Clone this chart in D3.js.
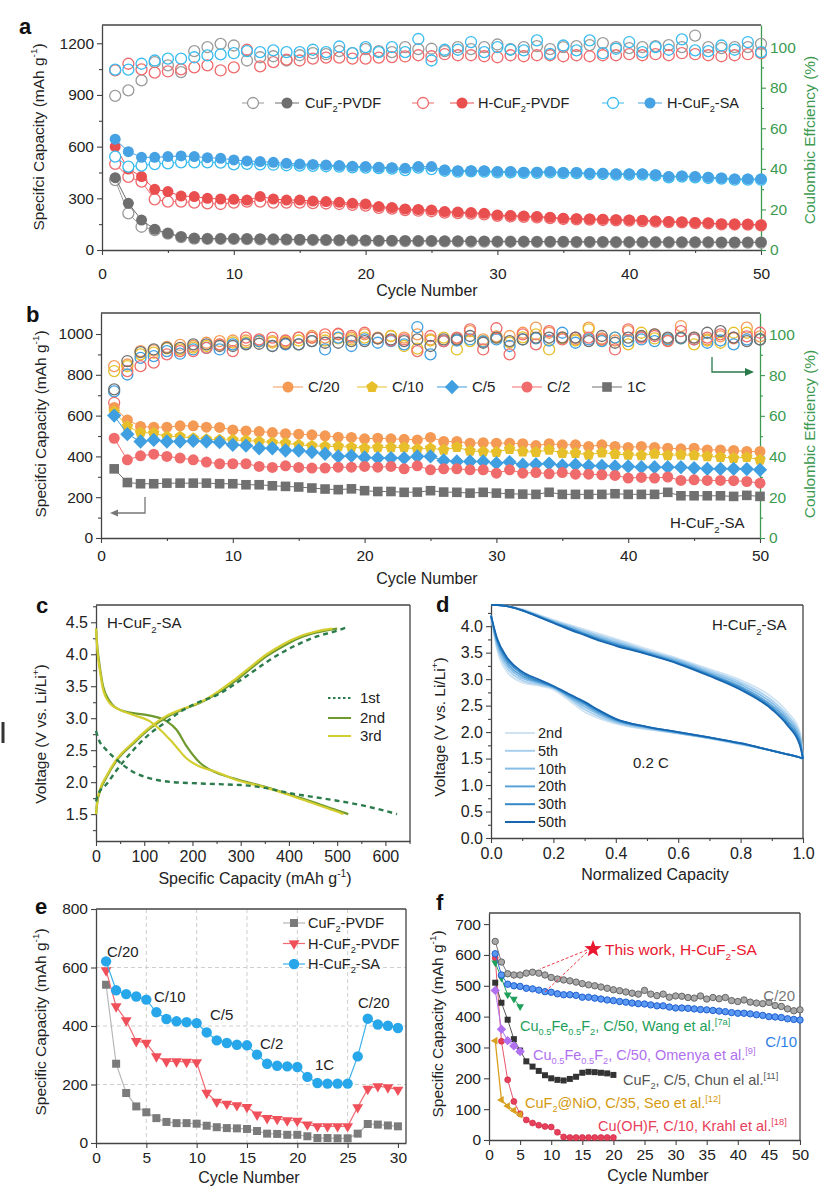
<!DOCTYPE html>
<html><head><meta charset="utf-8">
<script src="https://cdn.jsdelivr.net/npm/d3@7"></script>
<style>body{margin:0;background:#fff}svg{display:block}</style>
</head><body><svg id="c" width="831" height="1199"></svg>
<script>
// ---------------- DATA ----------------
// Panel a (cycles 1..50)
const aGreyDis=[420,271,174,120,97,77,68,66,66,66,65,64,63,62,61,60,59,58,57,56,55,55,54,53,53,52,52,51,51,50,50,50,49,49,49,48,48,48,47,47,47,47,46,46,46,46,45,45,45,45];
const aGreyCh=[406,213,135,115,95,75,66,64,64,64,63,62,61,60,59,58,57,56,55,54,53,53,52,51,51,50,50,49,49,48,48,48,47,47,47,46,46,46,45,45,45,45,44,44,44,44,43,43,43,43];
const aGreyCE=[76,78.7,83.6,92.6,91,87.7,98,100,101.6,100.8,93.4,95,95.5,93.4,96,97,96.5,98,97,99,98,97.5,100,99,99.2,98,100,99,100,101.3,99,100,100.5,99,100,100.5,101,102,100,99.5,100,100.5,101,100,105.7,100,99.5,100,100,101.6];
const aRedDis=[600,470,426,352,339,313,310,300,296,294,290,310,296,290,290,284,281,277,271,267,252,246,238,235,232,223,220,217,213,203,200,197,194,190,184,182,180,178,176,174,172,169,165,163,159,157,151,150,149,145];
const aRedCh=[500,425,397,294,281,281,275,271,267,275,281,281,275,275,275,272,270,267,262,258,245,240,232,228,225,217,214,211,207,198,195,192,189,185,180,178,176,174,172,170,168,165,162,160,156,154,149,148,147,143];
const aRedCE=[88.5,91.8,89,87.4,88,89,90,91,88.5,90,98.7,90.5,92.6,93.8,93.4,94.3,94.8,94.8,94.3,94.3,94.8,95.1,95.4,96,95.5,96.5,96,96,95.5,95,96,95.5,96,96,95.5,96,95.5,96,96,96.5,96,96.5,96,97,96.5,96,95.5,96,96.5,97];
const aBlueDis=[643,571,538,538,542,546,542,536,532,523,517,513,509,503,499,497,493,490,486,484,480,478,474,484,484,464,460,460,460,455,455,452,452,455,450,450,445,445,442,442,442,437,426,430,426,422,418,412,412,412];
const aBlueCh=[542,484,490,499,503,509,509,509,507,497,500,497,495,492,490,488,486,484,480,478,475,472,464,478,470,460,455,456,455,450,451,448,448,450,446,446,441,441,438,438,438,433,422,426,422,418,414,408,408,408];
const aBlueCE=[88.9,88.9,91.8,93.4,94.3,94.3,95,95.9,96.4,97,98,97.5,98.4,97.5,97.5,98.7,97.5,100.3,97,100,97.5,100,97.5,104,93.4,98.7,98.7,102.5,97.5,100,98.7,98.4,103.3,96.7,100.8,98.4,103.3,97,99.2,102.5,97.5,100,98.7,103.8,98.4,98,100.8,98.7,102.5,97.5];
const aLegend=["CuF_{2}-PVDF","H-CuF_{2}-PVDF","H-CuF_{2}-SA"];

// Panel b (cycles 1..50)
const bC20=[640,579,547,543,543,550,550,543,542,530,525,522,517,511,509,506,501,494,493,486,489,486,484,481,493,473,473,465,467,465,465,462,453,462,457,457,449,457,449,444,449,444,440,437,440,432,432,429,424,424];
const bC10=[620,547,517,514,497,497,489,484,481,481,478,473,468,465,457,452,449,449,445,440,444,444,444,436,440,432,445,427,424,421,436,424,421,432,416,416,408,419,411,408,405,413,405,408,405,400,396,392,396,383];
const bC5=[600,509,473,481,473,473,476,473,470,457,453,440,440,429,429,421,413,400,403,395,392,392,392,400,400,380,375,375,375,367,372,359,362,365,356,359,354,354,351,351,347,347,347,347,343,339,339,339,338,334];
const bC2=[489,383,403,411,400,392,383,372,364,364,364,351,346,354,346,343,343,347,347,351,347,351,339,354,334,339,339,334,334,318,334,318,321,315,321,313,313,310,307,294,297,294,299,282,285,282,282,281,277,269];
const b1C=[339,272,266,266,269,269,269,269,266,266,261,261,256,253,250,245,240,237,241,232,228,228,224,225,232,225,224,220,224,220,217,215,214,224,214,214,214,214,217,214,214,214,224,207,207,207,207,204,209,204];
const bC20CE=[84.4,85.2,91.8,92.1,93.8,94.8,94.3,95.9,96.7,97,97,97,96.7,95.9,98.4,99.2,98.4,100,98.4,100,98.4,99.2,98.4,100,97.5,96.7,98,101.6,97.5,99,99.2,100.8,103.3,100.8,98.5,97.5,103.3,98,97,101.6,99,100,98,104.1,98.4,97.5,99,98,103.3,99];
const bC10CE=[82,84.4,90.2,91,93.1,92.6,93.5,94.3,95,96,96,96.5,96,96.5,97,98.4,97,98,97.5,98.4,98,99.2,94.3,93,97,98.4,92.6,96.7,96.7,98.4,96,98.5,100,92.6,98,97,102.5,97,98.4,95.1,100.8,98,97,98,95.1,97,95.9,100.8,100.8,97.5];
const bC5CE=[72,80.3,88.5,89.3,91.8,90.5,92.6,93.4,92.6,95.1,95.4,96.7,94.3,95.1,95.1,96.7,92.6,98.4,94.3,97.5,95.9,96.7,95.1,103.6,90.2,96.7,97,97.5,96.5,97.5,94.3,97.5,98,97,100.8,95.9,97.5,96.7,98.4,96.7,97.5,96.7,97.5,98,97.5,95.9,97,95.1,97.5,97.5];
const bC2CE=[66.4,82,84.4,86.1,90.2,91.8,91.8,93.4,95.1,91.8,98.4,97.5,98.4,97,98.4,98.4,100,100.3,99.2,100.8,98,97,97.5,91.8,99.2,96.7,98.4,102.5,92.6,103,90.2,100,95.1,101.6,97.5,98.4,98.4,97.5,92.6,102.5,98.4,99.2,96.7,101.6,97.5,98.4,100,98.4,99,100.8];
const b1CCE=[73,86.9,91.3,92.6,93.4,93.4,95.1,95.1,94.3,94.3,95.1,95.4,94.3,95.4,95.1,96.7,95.9,95.9,96.7,96.7,98,97.5,96.7,97.5,94.3,97.5,97.5,99.2,95.9,98.4,96.7,97.5,98.4,98.4,98.4,98.4,96.7,99.2,95.9,98.4,99.2,100,98.4,98.4,98.4,100.8,101.6,98.4,96.7,97.5];
const bLegend=["C/20","C/10","C/5","C/2","1C"];

// Panel c: [capacity, voltage]
const c1stDis=[[0,2.8],[5,2.68],[22,2.5],[43,2.35],[77,2.16],[112,2.06],[147,2.01],[216,1.98],[285,1.96],[300,1.955],[350,1.91],[400,1.83],[450,1.77],[500,1.71],[550,1.64],[600,1.55],[624,1.5]];
const c1stCh=[[0,1.7],[5,1.82],[22,1.97],[43,2.19],[77,2.5],[112,2.76],[147,2.95],[181,3.13],[216,3.26],[250,3.36],[285,3.52],[320,3.7],[354,3.88],[389,4.04],[423,4.17],[458,4.28],[492,4.35],[520,4.42]];
const c2ndDis=[[0,4.4],[3,4.1],[8,3.8],[15,3.49],[29,3.26],[50,3.13],[77,3.08],[112,3.04],[147,2.95],[167,2.82],[188,2.56],[216,2.3],[243,2.17],[285,2.06],[354,1.92],[400,1.81],[450,1.69],[492,1.58],[523,1.5]];
const c2ndCh=[[0,1.5],[3,1.7],[8,1.85],[22,2.08],[43,2.34],[77,2.6],[112,2.84],[147,3.02],[181,3.14],[216,3.24],[250,3.38],[285,3.56],[320,3.77],[354,3.97],[389,4.13],[423,4.26],[458,4.34],[500,4.4]];
const c3rdDis=[[0,4.4],[3,4.05],[8,3.75],[15,3.44],[29,3.23],[50,3.13],[77,3.05],[112,2.95],[133,2.82],[160,2.61],[188,2.37],[216,2.24],[250,2.16],[285,2.05],[354,1.91],[400,1.8],[450,1.67],[492,1.56],[513,1.5]];
const c3rdCh=[[0,1.5],[3,1.72],[8,1.88],[22,2.1],[43,2.36],[77,2.62],[112,2.86],[147,3.04],[181,3.15],[216,3.25],[250,3.4],[285,3.59],[320,3.8],[354,4.0],[389,4.16],[423,4.28],[458,4.36],[490,4.4]];
const cLegend=["1st","2nd","3rd"];

// Panel d: normalized capacity grid + voltages
const dX=[0,0.02,0.05,0.1,0.15,0.2,0.25,0.3,0.35,0.4,0.5,0.6,0.7,0.8,0.9,0.95,0.99,1.0];
const d2Dis=[4.2,3.55,3.15,2.94,2.88,2.8,2.6,2.38,2.25,2.16,2.05,1.97,1.88,1.77,1.65,1.58,1.52,1.5];
const d5Dis=[4.2,3.6,3.22,2.98,2.9,2.83,2.64,2.43,2.28,2.18,2.06,1.98,1.88,1.77,1.65,1.58,1.52,1.5];
const d10Dis=[4.2,3.65,3.28,3.02,2.93,2.84,2.66,2.48,2.32,2.2,2.08,1.98,1.89,1.78,1.65,1.58,1.52,1.5];
const d20Dis=[4.2,3.69,3.33,3.06,2.95,2.85,2.68,2.52,2.35,2.22,2.09,1.99,1.89,1.78,1.65,1.58,1.52,1.5];
const d30Dis=[4.2,3.73,3.38,3.1,2.97,2.86,2.7,2.55,2.38,2.24,2.1,2.0,1.9,1.79,1.65,1.58,1.52,1.5];
const d50Dis=[4.2,3.76,3.42,3.14,3.0,2.87,2.72,2.57,2.4,2.25,2.1,2.0,1.9,1.79,1.65,1.58,1.52,1.5];
const d2Ch=[4.4,4.4,4.38,4.32,4.22,4.12,4.03,3.94,3.85,3.76,3.57,3.39,3.19,2.98,2.66,2.38,2.0,1.5];
const d5Ch=[4.4,4.4,4.38,4.31,4.21,4.1,4.01,3.91,3.82,3.73,3.54,3.37,3.16,2.94,2.6,2.32,1.95,1.5];
const d10Ch=[4.4,4.4,4.38,4.31,4.2,4.09,3.99,3.89,3.79,3.7,3.52,3.35,3.13,2.9,2.55,2.27,1.9,1.5];
const d20Ch=[4.4,4.4,4.38,4.3,4.19,4.08,3.97,3.86,3.76,3.67,3.5,3.32,3.1,2.86,2.5,2.22,1.85,1.5];
const d30Ch=[4.4,4.4,4.38,4.3,4.19,4.07,3.96,3.85,3.74,3.65,3.48,3.3,3.08,2.83,2.46,2.17,1.8,1.5];
const d50Ch=[4.4,4.4,4.38,4.3,4.18,4.06,3.94,3.83,3.72,3.63,3.47,3.29,3.06,2.8,2.43,2.13,1.75,1.5];
const dLegend=["2nd","5th","10th","20th","30th","50th"];

// Panel e (cycles 1..30)
const eGrey=[541,271,171,125,105,85,72,68,68,66,59,54,51,50,48,41,32,31,28,28,23,17,17,16,16,32,65,63,60,57];
const eRed=[590,467,419,348,342,296,279,279,277,276,171,141,134,129,123,97,85,82,77,76,63,57,57,57,57,122,185,194,190,182];
const eBlue=[621,522,509,501,490,447,424,416,413,410,378,351,342,336,334,302,271,264,262,260,226,205,203,203,203,296,425,405,401,393];
const eLegend=["CuF_{2}-PVDF","H-CuF_{2}-PVDF","H-CuF_{2}-SA"];
const eRates=["C/20","C/10","C/5","C/2","1C","C/20"];

// Panel f
const fC20=[644,577,539,535,535,541,544,541,535,527,522,519,516,512,507,503,500,496,492,487,484,480,476,473,485,473,468,473,463,467,466,462,460,467,457,462,458,462,452,449,454,447,444,442,446,436,433,425,419,422];
const fC10=[604,535,505,500,498,492,490,486,481,479,474,471,471,469,463,463,460,457,454,452,449,447,444,442,441,438,435,435,431,428,428,427,425,423,422,420,418,416,413,411,411,409,406,404,400,399,397,393,391,389];
const fWang=[575,525,471,457,433];
const fOmenya=[485,359,322,305,287];
const fChun=[510,445,390,327,290,255,238,224,210,200,195,193,198,205,218,221,220,218,216,211];
const fSeo=[322,130,110,96,82];
const fKrahl=[590,320,195,125,85,65,55,48,44,42,25,10,8,8,8,8,8,8,8,8];

// tick values
const aXT=[0,10,20,30,40,50], aXm=[5,15,25,35,45];
const aYT=[0,300,600,900,1200], aYm=[150,450,750,1050];
const rT=[0,20,40,60,80,100], rM=[10,30,50,70,90];
const bYT=[0,200,400,600,800,1000], bYm=[100,300,500,700,900];
const cXT=[0,100,200,300,400,500,600], cXm=[50,150,250,350,450,550,650];
const cYT=[1.5,2.0,2.5,3.0,3.5,4.0,4.5], cYm=[1.25,1.75,2.25,2.75,3.25,3.75,4.25,4.75];
const dXT=[0,0.2,0.4,0.6,0.8,1.0], dXm=[0.1,0.3,0.5,0.7,0.9];
const dYT=[0,0.5,1.0,1.5,2.0,2.5,3.0,3.5,4.0], dYm=[0.25,0.75,1.25,1.75,2.25,2.75,3.25,3.75,4.25];
const eXT=[0,5,10,15,20,25,30], eYT=[0,200,400,600,800];
const fXT=[0,5,10,15,20,25,30,35,40,45,50], fYT=[0,100,200,300,400,500,600,700];

// ---------------- HELPERS ----------------
const FONT='"Liberation Sans", Arial, Helvetica, sans-serif';
const svg=d3.select('#c');
svg.append('rect').attr('width',831).attr('height',1199).attr('fill','#fff');
const FR='#444';

function parse(s){const out=[];const re=/([_^])\{([^}]*)\}/g;let last=0,m;
  while((m=re.exec(s))){if(m.index>last)out.push({t:s.slice(last,m.index)});out.push({t:m[2],sub:m[1]==='_',sup:m[1]==='^'});last=re.lastIndex;}
  if(last<s.length)out.push({t:s.slice(last)});return out;}
function rich(g,x,y,s,o={}){const fs=o.fs||14;
  const t=g.append('text').attr('x',x).attr('y',y).attr('font-size',fs).attr('font-family',FONT)
    .attr('fill',o.fill||'#222').attr('text-anchor',o.anchor||'start');
  if(o.rotate!=null)t.attr('transform',`rotate(${o.rotate},${x},${y})`);
  if(o.weight)t.attr('font-weight',o.weight);
  let shift=0;
  parse(s).forEach(q=>{const target=q.sub?fs*0.3:q.sup?-fs*0.42:0;
    const sp=t.append('tspan').text(q.t).attr('dy',target-shift);
    if(q.sub||q.sup)sp.attr('font-size',fs*0.64);shift=target;});
  return t;}
function poly(n,r,rot=0){let p=[];for(let i=0;i<n;i++){const a=rot+i*2*Math.PI/n;p.push([r*Math.sin(a),-r*Math.cos(a)]);}
  return 'M'+p.map(q=>q[0].toFixed(2)+','+q[1].toFixed(2)).join('L')+'Z';}
function star(r1,r2){let p=[];for(let i=0;i<10;i++){const a=i*Math.PI/5;const r=i%2?r2:r1;p.push([r*Math.sin(a),-r*Math.cos(a)]);}
  return 'M'+p.map(q=>q[0].toFixed(2)+','+q[1].toFixed(2)).join('L')+'Z';}
function shape(type,r){
  switch(type){
    case 'square':return `M${-r},${-r}H${r}V${r}H${-r}Z`;
    case 'diamond':return poly(4,r*1.3,0);
    case 'pentagon':return poly(5,r*1.1,0);
    case 'tridown':return poly(3,r*1.25,Math.PI);
    case 'trileft':return poly(3,r*1.25,-Math.PI/2);
    case 'star':return star(r,r*0.42);
    default:return `M${r},0A${r},${r} 0 1,1 ${-r},0A${r},${r} 0 1,1 ${r},0Z`;}}
function marks(g,xs,ys,xs_,ys_,o){
  if(o.line){g.append('path').datum(ys.map((v,i)=>[xs[i],v]))
    .attr('d',d3.line().x(d=>xs_(d[0])).y(d=>ys_(d[1]))).attr('fill','none')
    .attr('stroke',o.line).attr('stroke-width',o.lw||1);}
  g.selectAll(null).data(ys.map((v,i)=>[xs[i],v])).enter().append('path')
    .attr('d',shape(o.type||'circle',o.r||5)).attr('transform',d=>`translate(${xs_(d[0])},${ys_(d[1])})`)
    .attr('fill',o.fill||'none').attr('stroke',o.stroke||'none').attr('stroke-width',o.sw||1);}
function styleAx(sel,col,tcol,fs){sel.attr('font-family',FONT).attr('font-size',fs||15.5);
  sel.selectAll('path.domain').attr('stroke',col).attr('stroke-width',1.3);
  sel.selectAll('.tick line').attr('stroke',col).attr('stroke-width',1.1);
  sel.selectAll('.tick text').attr('fill',tcol||'#222');}
function axis(g,kind,sc,pos,ticks,minor,pad,fmt,col,tcol,fs){
  const mk={b:d3.axisBottom,l:d3.axisLeft,r:d3.axisRight}[kind];
  const tr=kind==='b'?`translate(0,${pos})`:`translate(${pos},0)`;
  const a=g.append('g').attr('transform',tr).call(mk(sc).tickValues(ticks).tickSize(5).tickSizeOuter(0).tickPadding(pad).tickFormat(fmt));
  styleAx(a,col||FR,tcol,fs);
  if(minor){const m=g.append('g').attr('transform',tr).call(mk(sc).tickValues(minor).tickSize(3).tickFormat(''));
    m.select('.domain').remove();styleAx(m,col||FR);}
  return a;}
function frameTopRight(g,P,right=true){
  g.append('line').attr('x1',P.l).attr('x2',P.r).attr('y1',P.t).attr('y2',P.t).attr('stroke',FR).attr('stroke-width',1.3);
  if(right)g.append('line').attr('x1',P.r).attr('x2',P.r).attr('y1',P.t).attr('y2',P.b).attr('stroke',FR).attr('stroke-width',1.3);}
function letter(t,x,y){svg.append('text').attr('x',x).attr('y',y).text(t).attr('font-family',FONT).attr('font-weight','bold').attr('font-size',22).attr('fill','#111');}
const fInt=d3.format('d'), f1=d3.format('.1f');
const GREEN='#3c9a50';
const TF=16, YF=15.5;

// ---------------- PANEL A ----------------
{const g=svg.append('g');const P={l:102,r:761,t:25,b:250};
 const x=d3.scaleLinear().domain([0,50]).range([P.l,P.r]);
 const y=d3.scaleLinear().domain([0,1306]).range([P.b,P.t]);
 const yr=d3.scaleLinear().domain([0,110.9]).range([P.b,P.t]);
 const cyc=aGreyDis.map((d,i)=>i+1);
 frameTopRight(g,P,false);
 axis(g,'b',x,P.b,aXT,aXm,13,fInt);
 axis(g,'l',y,P.l,aYT,aYm,3,fInt);
 axis(g,'r',yr,P.r,rT,rM,4,fInt,GREEN,GREEN);
 const C={g:'#6e6e6e',go:'#9a9a9a',r:'#ea4f50',ro:'#ef6a6c',b:'#47a2e4',bo:'#38bbef'};
 marks(g,cyc,aGreyCh,x,y,{fill:'#fff',stroke:C.go,sw:1.3,r:5.5,line:C.go});
 marks(g,cyc,aGreyDis,x,y,{fill:C.g,r:5.5,line:C.g});
 marks(g,cyc,aRedCh,x,y,{fill:'#fff',stroke:C.ro,sw:1.3,r:5.5,line:C.ro});
 marks(g,cyc,aRedDis,x,y,{fill:C.r,r:5.5,line:C.r});
 marks(g,cyc,aBlueCh,x,y,{fill:'#fff',stroke:C.bo,sw:1.3,r:5.5,line:C.bo});
 marks(g,cyc,aBlueDis,x,y,{fill:C.b,r:5.5,line:C.b});
 marks(g,cyc,aGreyCE,x,yr,{fill:'none',stroke:C.go,sw:1.3,r:5.5});
 marks(g,cyc,aRedCE,x,yr,{fill:'none',stroke:C.ro,sw:1.3,r:5.5});
 marks(g,cyc,aBlueCE,x,yr,{fill:'none',stroke:C.bo,sw:1.3,r:5.5});
 const lx=[[253,287,305],[423,462,478],[613,650,667]], lc=[[C.go,C.g],[C.ro,C.r],[C.bo,C.b]];
 aLegend.forEach((s,i)=>{const ly=103;const [xo,xf,xt]=lx[i];
  g.append('line').attr('x1',xo-11).attr('x2',xo+11).attr('y1',ly).attr('y2',ly).attr('stroke',lc[i][0]);
  g.append('path').attr('d',shape('circle',5.5)).attr('transform',`translate(${xo},${ly})`).attr('fill','#fff').attr('stroke',lc[i][0]).attr('stroke-width',1.3);
  g.append('line').attr('x1',xf-12).attr('x2',xf+12).attr('y1',ly).attr('y2',ly).attr('stroke',lc[i][1]);
  g.append('path').attr('d',shape('circle',5.5)).attr('transform',`translate(${xf},${ly})`).attr('fill',lc[i][1]);
  rich(g,xt,ly+5,s,{fs:14.5});});
 rich(g,44,137,'Specifci Capacity (mAh g^{-1})',{fs:YF,anchor:'middle',rotate:-90});
 rich(g,815,140,'Coulombic Effciency (%)',{fs:YF,anchor:'middle',rotate:-90,fill:GREEN});
 rich(g,427,296,'Cycle Number',{fs:TF,anchor:'middle'});
 letter('a',19,34);}

// ---------------- PANEL B ----------------
{const g=svg.append('g');const P={l:101,r:760,t:313,b:538};
 const x=d3.scaleLinear().domain([0,50]).range([P.l,P.r]);
 const y=d3.scaleLinear().domain([0,1103]).range([P.b,P.t]);
 const yr=d3.scaleLinear().domain([0,110.5]).range([P.b,P.t]);
 const cyc=bC20.map((d,i)=>i+1);
 frameTopRight(g,P,false);
 axis(g,'b',x,P.b,aXT,aXm,7,fInt);
 axis(g,'l',y,P.l,bYT,bYm,3,fInt);
 axis(g,'r',yr,P.r,rT,rM,4,fInt,GREEN,GREEN);
 const cols=['#f59a55','#e6bf2a','#3f9fe0','#f06c6c','#707070'];
 const types=['circle','pentagon','diamond','circle','square'];
 const data=[bC20,bC10,bC5,bC2,b1C], ce=[bC20CE,bC10CE,bC5CE,bC2CE,b1CCE];
 ce.forEach((d,i)=>marks(g,cyc,d,x,yr,{fill:'none',stroke:cols[i],sw:1.3,r:5.5}));
 data.forEach((d,i)=>marks(g,cyc,d,x,y,{fill:cols[i],type:types[i],r:types[i]==='square'?4.8:5.5,line:cols[i]}));
 const lmx=[288,372,452,527,607];
 bLegend.forEach((s,i)=>{const ly=387;
  g.append('line').attr('x1',lmx[i]-15).attr('x2',lmx[i]+15).attr('y1',ly).attr('y2',ly).attr('stroke',cols[i]);
  g.append('path').attr('d',shape(types[i],types[i]==='square'?4.8:5.5)).attr('transform',`translate(${lmx[i]},${ly})`).attr('fill',cols[i]);
  rich(g,lmx[i]+20,ly+5,s,{fs:15});});
 g.append('path').attr('d','M145,497V513H114').attr('fill','none').attr('stroke','#777').attr('stroke-width',1.3);
 g.append('path').attr('d','M110,513L118,509.5L118,516.5Z').attr('fill','#777');
 g.append('path').attr('d','M712,357V372H748').attr('fill','none').attr('stroke','#2a7a4a').attr('stroke-width',1.3);
 g.append('path').attr('d','M754,372L745,368L745,376Z').attr('fill','#2a7a4a');
 rich(g,670,528,'H-CuF_{2}-SA',{fs:15});
 rich(g,46,424,'Specifci Capacity (mAh g^{-1})',{fs:YF,anchor:'middle',rotate:-90});
 rich(g,815,434,'Coulombic Effciency (%)',{fs:YF,anchor:'middle',rotate:-90,fill:GREEN});
 rich(g,427,584,'Cycle Number',{fs:TF,anchor:'middle'});
 letter('b',26,322);}

// ---------------- PANEL C ----------------
{const g=svg.append('g');const P={l:96,r:410,t:605,b:841};
 const x=d3.scaleLinear().domain([0,651]).range([P.l,P.r]);
 const y=d3.scaleLinear().domain([1.08,4.77]).range([P.b,P.t]);
 frameTopRight(g,P);
 axis(g,'b',x,P.b,cXT,cXm,5,fInt,null,null,16);
 axis(g,'l',y,P.l,cYT,cYm,3,f1,null,null,16);
 const ln=d3.line().x(d=>x(d[0])).y(d=>y(d[1])).curve(d3.curveMonotoneX);
 const C1='#2c7b4c',C2='#6f9a2e',C3='#d4cd30';
 [[c2ndDis,C2],[c2ndCh,C2],[c3rdDis,C3],[c3rdCh,C3]].forEach(([d,c])=>g.append('path').attr('d',ln(d)).attr('fill','none').attr('stroke',c).attr('stroke-width',2.2));
 [c1stDis,c1stCh].forEach(d=>g.append('path').attr('d',ln(d)).attr('fill','none').attr('stroke',C1).attr('stroke-width',2.4).attr('stroke-dasharray','5,4'));
 const lc=[C1,C2,C3], ly=[698,718,736];
 cLegend.forEach((s,i)=>{g.append('line').attr('x1',328).attr('x2',351).attr('y1',ly[i]).attr('y2',ly[i]).attr('stroke',lc[i]).attr('stroke-width',2)
   .attr('stroke-dasharray',i===0?'2.5,2.5':null);
   rich(g,360,ly[i]+5,s,{fs:15});});
 rich(g,107,628,'H-CuF_{2}-SA',{fs:15});
 rich(g,46,734,'Voltage (V vs. Li/Li^{+})',{fs:YF,anchor:'middle',rotate:-90});
 rich(g,255,884,'Specific Capacity (mAh g^{-1})',{fs:TF,anchor:'middle'});
 g.append('rect').attr('x',1.5).attr('y',722).attr('width',3).attr('height',21).attr('fill','#333');
 letter('c',36,613);}

// ---------------- PANEL D ----------------
{const g=svg.append('g');const P={l:491,r:803,t:605,b:838};
 const x=d3.scaleLinear().domain([0,1]).range([P.l,P.r]);
 const y=d3.scaleLinear().domain([0,4.4]).range([P.b,P.t]);
 frameTopRight(g,P);
 axis(g,'b',x,P.b,dXT,dXm,5,f1,null,null,16);
 axis(g,'l',y,P.l,dYT,dYm,3,f1,null,null,16);
 const cols=['#cfe3f2','#a9d0ee','#86bde6','#5aa3d9','#3589c9','#1766b0'];
 const dis=[d2Dis,d5Dis,d10Dis,d20Dis,d30Dis,d50Dis], ch=[d2Ch,d5Ch,d10Ch,d20Ch,d30Ch,d50Ch];
 const ln=d3.line().x(d=>x(d[0])).y(d=>y(d[1])).curve(d3.curveMonotoneX);
 dis.forEach((d,i)=>{g.append('path').attr('d',ln(d.map((v,j)=>[dX[j],v]))).attr('fill','none').attr('stroke',cols[i]).attr('stroke-width',1.8);
   g.append('path').attr('d',ln(ch[i].map((v,j)=>[dX[j],v]))).attr('fill','none').attr('stroke',cols[i]).attr('stroke-width',1.8);});
 dLegend.forEach((s,i)=>{const ly=733+i*17.8;
   g.append('line').attr('x1',505).attr('x2',535).attr('y1',ly).attr('y2',ly).attr('stroke',cols[i]).attr('stroke-width',2);
   rich(g,538,ly+5,s,{fs:14.5});});
 rich(g,712,630,'H-CuF_{2}-SA',{fs:15});
 rich(g,633,768,'0.2 C',{fs:15});
 rich(g,445,727,'Voltage (V vs. Li/Li^{+})',{fs:YF,anchor:'middle',rotate:-90});
 rich(g,655,880,'Normalized Capacity',{fs:TF,anchor:'middle'});
 letter('d',436,612);}

// ---------------- PANEL E ----------------
{const g=svg.append('g');const P={l:96,r:406,t:909,b:1143};
 const x=d3.scaleLinear().domain([0,30.8]).range([P.l,P.r]);
 const y=d3.scaleLinear().domain([0,800]).range([P.b,P.t]);
 const cyc=eGrey.map((d,i)=>i+1);
 g.selectAll(null).data([5,10,15,20,25]).enter().append('line').attr('x1',d=>x(d)).attr('x2',d=>x(d)).attr('y1',P.t).attr('y2',P.b)
  .attr('stroke','#cfcfcf').attr('stroke-dasharray','4,3');
 g.selectAll(null).data([200,400,600]).enter().append('line').attr('y1',d=>y(d)).attr('y2',d=>y(d)).attr('x1',P.l).attr('x2',P.r)
  .attr('stroke','#cfcfcf').attr('stroke-dasharray','4,3');
 frameTopRight(g,P);
 axis(g,'b',x,P.b,eXT,null,4,fInt);
 axis(g,'l',y,P.l,eYT,null,3,fInt);
 marks(g,cyc,eGrey,x,y,{type:'square',r:4,fill:'#7b7b7b',line:'#b8b8b8',lw:1.2});
 marks(g,cyc,eRed,x,y,{type:'tridown',r:5,fill:'#f0505a',line:'#f06a72',lw:1.2});
 marks(g,cyc,eBlue,x,y,{type:'circle',r:5.2,fill:'#27a6ea',line:'#3ab0ea',lw:1.2});
 const li=[{t:'square',r:4,f:'#7b7b7b',l:'#b8b8b8'},{t:'tridown',r:5,f:'#f0505a',l:'#f06a72'},{t:'circle',r:5.2,f:'#27a6ea',l:'#3ab0ea'}];
 eLegend.forEach((s,i)=>{const ly=923+i*20.5;
  g.append('line').attr('x1',283).attr('x2',305).attr('y1',ly).attr('y2',ly).attr('stroke',li[i].l).attr('stroke-width',1.2);
  g.append('path').attr('d',shape(li[i].t,li[i].r)).attr('transform',`translate(294,${ly})`).attr('fill',li[i].f);
  rich(g,308,ly+5,s,{fs:14.5});});
 const rp=[[107,957],[154,1002],[210,1020],[260,1049],[315,1070],[358,1008]];
 eRates.forEach((s,i)=>rich(g,rp[i][0],rp[i][1],s,{fs:15}));
 rich(g,46,1022,'Specific Capacity (mAh g^{-1})',{fs:YF,anchor:'middle',rotate:-90});
 rich(g,249,1183,'Cycle Number',{fs:TF,anchor:'middle'});
 letter('e',35,914);}

// ---------------- PANEL F ----------------
{const g=svg.append('g');const P={l:489,r:800,t:913,b:1140};
 const x=d3.scaleLinear().domain([0,50]).range([P.l,P.r]);
 const y=d3.scaleLinear().domain([0,736]).range([P.b,P.t]);
 const cy=a=>a.map((d,i)=>i+1);
 frameTopRight(g,P);
 axis(g,'b',x,P.b,fXT,null,4,fInt);
 axis(g,'l',y,P.l,fYT,null,3,fInt);
 marks(g,cy(fKrahl),fKrahl,x,y,{r:3,fill:'#e8405a',stroke:'#c8203a',sw:0.6,line:'#e8556a'});
 marks(g,cy(fSeo),fSeo,x,y,{type:'trileft',r:3.6,fill:'#d9a020',line:'#d9a020',lw:1.3});
 marks(g,cy(fChun),fChun,x,y,{type:'square',r:3,fill:'#333',line:'#555'});
 marks(g,cy(fOmenya),fOmenya,x,y,{type:'diamond',r:3.6,fill:'#b070f0',line:'#b070f0'});
 marks(g,cy(fWang),fWang,x,y,{type:'tridown',r:3.6,fill:'#1ea05a',line:'#1ea05a'});
 marks(g,cy(fC10),fC10,x,y,{r:3.2,fill:'#5a98f2',stroke:'#1f5fd0',sw:1,line:'#2f6fe0'});
 marks(g,cy(fC20),fC20,x,y,{r:3.2,fill:'#a8a8a8',stroke:'#666',sw:1,line:'#777'});
 g.append('path').attr('d','M587,950L540,969M587,952L545,992').attr('stroke','#ee3344').attr('stroke-width',1).attr('stroke-dasharray','3,2').attr('fill','none');
 g.append('path').attr('d',shape('star',9)).attr('transform','translate(593,949)').attr('fill','#e81830');
 rich(g,605,955,'This work, H-CuF_{2}-SA',{fs:15.5,fill:'#e81830'});
 rich(g,795,1001,'C/20',{fs:15,fill:'#777',anchor:'end'});
 rich(g,797,1047,'C/10',{fs:15,fill:'#2f7fe8',anchor:'end'});
 rich(g,520,1031,'Cu_{0.5}Fe_{0.5}F_{2}, C/50, Wang et al.^{[7a]}',{fs:14.5,fill:'#1ea05a'});
 rich(g,533,1060,'Cu_{0.5}Fe_{0.5}F_{2}, C/50, Omenya et al.^{[9]}',{fs:14.5,fill:'#b070f0'});
 rich(g,623,1085,'CuF_{2}, C/5, Chun el al.^{[11]}',{fs:14.5,fill:'#555'});
 rich(g,525,1108,'CuF_{2}@NiO, C/35, Seo et al.^{[12]}',{fs:14.5,fill:'#d49a10'});
 rich(g,598,1131,'Cu(OH)F, C/10, Krahl et al.^{[18]}',{fs:14.5,fill:'#e8405a'});
 rich(g,443,1024,'Specific Capacity (mAh g^{-1})',{fs:YF,anchor:'middle',rotate:-90});
 rich(g,658,1181,'Cycle Number',{fs:TF,anchor:'middle'});
 letter('f',436,910);}
</script></body></html>
